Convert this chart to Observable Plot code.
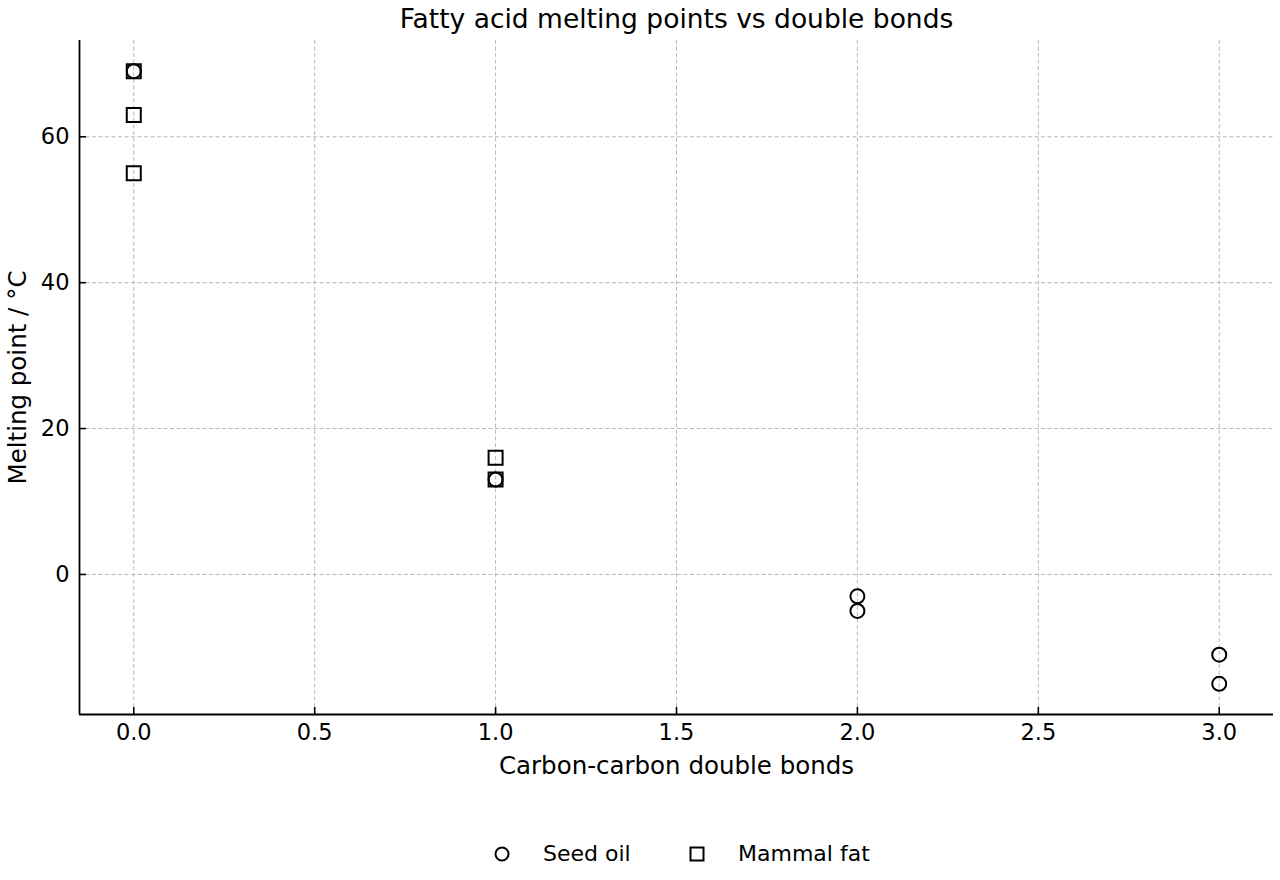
<!DOCTYPE html>
<html>
<head>
<meta charset="utf-8">
<script src="https://cdn.jsdelivr.net/npm/d3@7"></script>
<script src="https://cdn.jsdelivr.net/npm/@observablehq/plot@0.6"></script>
<style>
  body { margin: 0; background: #fff; font-family: "DejaVu Sans", sans-serif; }
  #legend { position: relative; width: 1280px; height: 90px; font-family: "DejaVu Sans", sans-serif; font-size: 22px; color: #000; }
  #legend .item { position: absolute; top: 51px; display: flex; align-items: center; }
</style>
</head>
<body>
<div id="chart"></div>
<div id="legend"></div>
<script>
const seriesNames = ["Seed oil", "Mammal fat"];
const seedBonds = [0, 1, 2, 2, 3, 3];
const seedMelt = [69, 13, -3, -5, -11, -15];
const mammalBonds = [0, 0, 0, 1, 1];
const mammalMelt = [69, 63, 55, 16, 13];
const xTicks = [0, 0.5, 1, 1.5, 2, 2.5, 3];
const yTicks = [0, 20, 40, 60];

const seed = seedBonds.map((b, i) => ({bonds: b, mp: seedMelt[i]}));
const mammal = mammalBonds.map((b, i) => ({bonds: b, mp: mammalMelt[i]}));

const W = 1280, H = 790, mL = 79, mR = 7, mT = 40, mB = 76;
const fw = W - mL - mR, fh = H - mT - mB;
const allY = seedMelt.concat(mammalMelt);
const yMin = d3.min(allY), yMax = d3.max(allY);
const yPad = (yMax - yMin) * 0.05;
const xDom = [-0.15, 3.15];
const yDom = [yMin - yPad, yMax + yPad];

const plot = Plot.plot({
  width: W, height: H,
  marginLeft: mL, marginRight: mR, marginTop: mT, marginBottom: mB,
  style: {fontFamily: "DejaVu Sans, sans-serif", fontSize: "23px", color: "#000", background: "#fff"},
  x: {domain: xDom, axis: null},
  y: {domain: yDom, axis: null},
  marks: [
    Plot.ruleX(xTicks, {x: d => d, stroke: "#b0b0b0", strokeWidth: 0.9, strokeDasharray: "4,2.5"}),
    Plot.ruleY(yTicks, {y: d => d, stroke: "#b0b0b0", strokeWidth: 0.9, strokeDasharray: "4,2.5"}),
    Plot.tickY(yTicks, {y: d => d, insetRight: fw - 7, stroke: "#000", strokeWidth: 1.6}),
    Plot.tickX(xTicks, {x: d => d, insetTop: fh - 7, stroke: "#000", strokeWidth: 1.6}),
    Plot.ruleX([xDom[0]], {stroke: "#000", strokeWidth: 1.8}),
    Plot.ruleY([yDom[0]], {stroke: "#000", strokeWidth: 1.8}),
    Plot.text(xTicks, {x: d => d, frameAnchor: "bottom", lineAnchor: "middle", dy: 18, text: d => d3.format(".1f")(d), fontSize: 22.5, fill: "#000"}),
    Plot.text(yTicks, {y: d => d, frameAnchor: "left", textAnchor: "end", lineAnchor: "middle", dx: -10, text: d => String(d), fontSize: 22.5, fill: "#000"}),
    Plot.text(["Carbon-carbon double bonds"], {frameAnchor: "bottom", lineAnchor: "middle", dy: 52, fontSize: 24.5, fill: "#000"}),
    Plot.text(["Melting point / °C"], {frameAnchor: "left", textAnchor: "middle", lineAnchor: "middle", dx: -61, rotate: -90, fontSize: 24.5, fill: "#000"}),
    Plot.text(["Fatty acid melting points vs double bonds"], {frameAnchor: "top", lineAnchor: "middle", dy: -21, fontSize: 26.5, fill: "#000"}),
    Plot.dot(seed, {x: "bonds", y: "mp", symbol: "circle", r: 7, stroke: "#000", strokeWidth: 2, fill: "none"}),
    Plot.dot(mammal, {x: "bonds", y: "mp", symbol: "square", r: 7.9, stroke: "#000", strokeWidth: 2, fill: "none"})
  ]
});
document.getElementById("chart").appendChild(plot);

const legend = document.getElementById("legend");
const items = [
  {name: seriesNames[0], x: 494, svg: '<svg width="16" height="16"><circle cx="8" cy="8" r="6.5" fill="none" stroke="#000" stroke-width="2"/></svg>'},
  {name: seriesNames[1], x: 689, svg: '<svg width="16" height="16"><rect x="1.5" y="1.5" width="13" height="13" fill="none" stroke="#000" stroke-width="2"/></svg>'}
];
items.forEach(it => {
  const div = document.createElement("div");
  div.className = "item";
  div.style.left = it.x + "px";
  div.innerHTML = it.svg + '<span style="margin-left:33px">' + it.name + '</span>';
  legend.appendChild(div);
});
</script>
</body>
</html>
